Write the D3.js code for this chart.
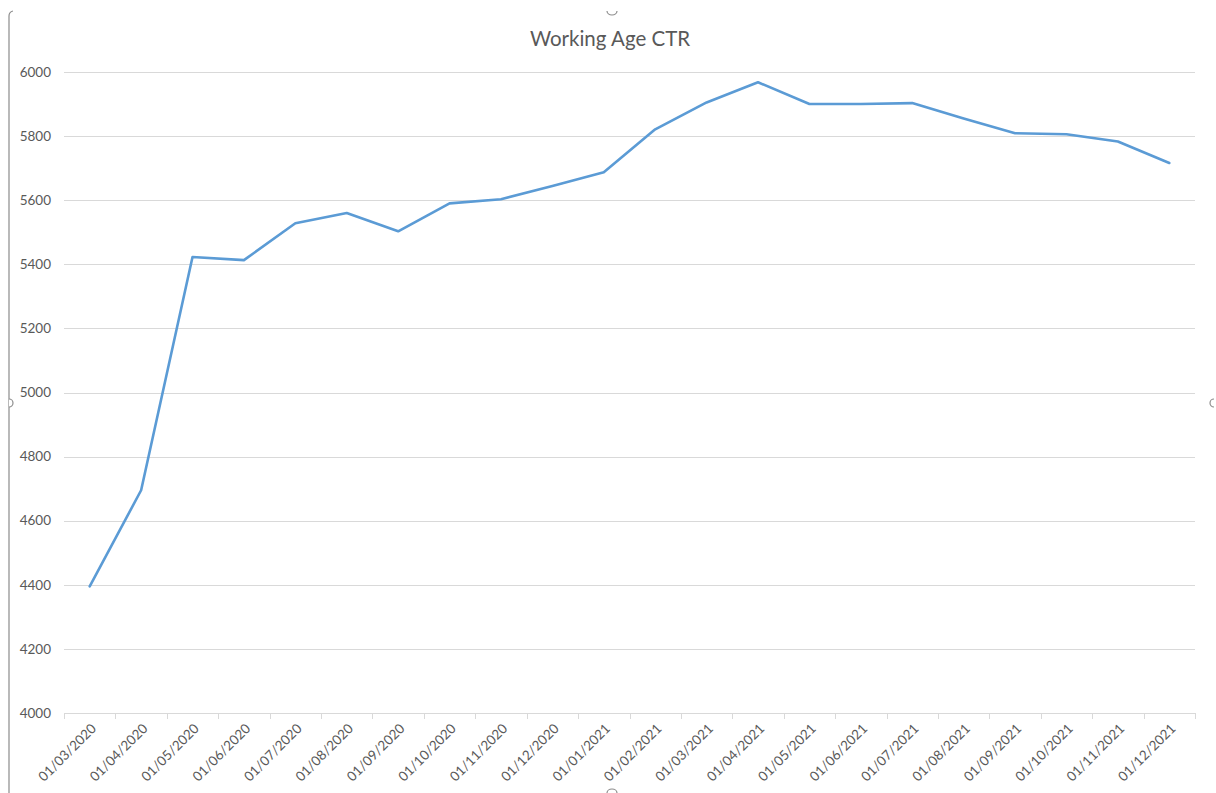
<!DOCTYPE html>
<html>
<head>
<meta charset="utf-8">
<script src="https://cdn.jsdelivr.net/npm/d3@7"></script>
<style>
  body { margin: 0; background: #fff; }
  text { font-family: Lato, "Open Sans", sans-serif; }
</style>
</head>
<body>
<div id="chart"></div>
<script>
const title = "Working Age CTR";

const months = [
    "01/03/2020", "01/04/2020", "01/05/2020", "01/06/2020", "01/07/2020",
    "01/08/2020", "01/09/2020", "01/10/2020", "01/11/2020", "01/12/2020",
    "01/01/2021", "01/02/2021", "01/03/2021", "01/04/2021", "01/05/2021",
    "01/06/2021", "01/07/2021", "01/08/2021", "01/09/2021", "01/10/2021",
    "01/11/2021", "01/12/2021"
];

const ctr = [
    4395, 4695, 5423, 5413, 5528,
    5560, 5503, 5590, 5603, 5644,
    5687, 5821, 5905, 5968, 5900,
    5900, 5903, 5855, 5809, 5806,
    5783, 5716
];

const yTicks = [4000, 4200, 4400, 4600, 4800, 5000, 5200, 5400, 5600, 5800, 6000];

const W = 1216, H = 793;
const margin = {left: 64, right: 21, top: 72, bottom: 80};

const svg = d3.select("#chart").append("svg")
    .attr("width", W)
    .attr("height", H);

// chart frame bits (selection outline, left edge + handles)
svg.append("path")
    .attr("d", "M 9 793 L 9 16 Q 9 12 13 11")
    .attr("fill", "none")
    .attr("stroke", "#8c8c8c")
    .attr("stroke-width", 1.2);
svg.append("path")
    .attr("d", "M 9 399 A 4 4 0 0 1 9 407")
    .attr("fill", "#fff")
    .attr("stroke", "#8c8c8c")
    .attr("stroke-width", 1.2);
svg.append("path")
    .attr("d", "M 1214 399 A 4 4 0 0 0 1214 407")
    .attr("fill", "none")
    .attr("stroke", "#8c8c8c")
    .attr("stroke-width", 1.2);
svg.append("path")
    .attr("d", "M 607 11 A 5 4 0 0 0 617 11")
    .attr("fill", "none")
    .attr("stroke", "#8c8c8c")
    .attr("stroke-width", 1.2);
svg.append("path")
    .attr("d", "M 607 793 A 5 4 0 0 1 617 793")
    .attr("fill", "none")
    .attr("stroke", "#8c8c8c")
    .attr("stroke-width", 1.2);

const x = d3.scaleBand()
    .domain(months)
    .range([margin.left, W - margin.right]);

const y = d3.scaleLinear()
    .domain([4000, 6000])
    .range([713, margin.top]);

// gridlines
svg.append("g")
    .selectAll("line")
    .data(yTicks)
    .join("line")
    .attr("x1", margin.left)
    .attr("x2", W - margin.right)
    .attr("y1", d => Math.round(y(d)) + 0.5)
    .attr("y2", d => Math.round(y(d)) + 0.5)
    .attr("stroke", "#d9d9d9")
    .attr("stroke-width", 1);

// y labels
svg.append("g")
    .selectAll("text")
    .data(yTicks)
    .join("text")
    .attr("x", 51)
    .attr("y", d => y(d))
    .attr("dy", "0.35em")
    .attr("text-anchor", "end")
    .attr("font-size", 13.5)
    .attr("fill", "#595959")
    .text(d => d);

// x axis: ticks between categories
const tickPos = months.map(m => x(m)).concat([x.range()[1]]);
svg.append("g")
    .selectAll("line")
    .data(tickPos)
    .join("line")
    .attr("x1", d => Math.round(d) + 0.5)
    .attr("x2", d => Math.round(d) + 0.5)
    .attr("y1", 713)
    .attr("y2", 719)
    .attr("stroke", "#d9d9d9");

svg.append("g")
    .selectAll("text")
    .data(months)
    .join("text")
    .attr("transform", d => `translate(${x(d) + x.bandwidth() / 2 + 4},${726}) rotate(-45)`)
    .attr("text-anchor", "end")
    .attr("dy", "0.35em")
    .attr("font-size", 13.5)
    .attr("fill", "#595959")
    .text(d => d);

// line
const line = d3.line()
    .x((d, i) => x(months[i]) + x.bandwidth() / 2)
    .y(d => y(d));

svg.append("path")
    .datum(ctr)
    .attr("d", line)
    .attr("fill", "none")
    .attr("stroke", "#5b9bd5")
    .attr("stroke-width", 2.6)
    .attr("stroke-linejoin", "round")
    .attr("stroke-linecap", "round");

// title
svg.append("text")
    .attr("x", 610)
    .attr("y", 46)
    .attr("text-anchor", "middle")
    .attr("font-size", 20.5)
    .attr("fill", "#595959")
    .text(title);
</script>
</body>
</html>
